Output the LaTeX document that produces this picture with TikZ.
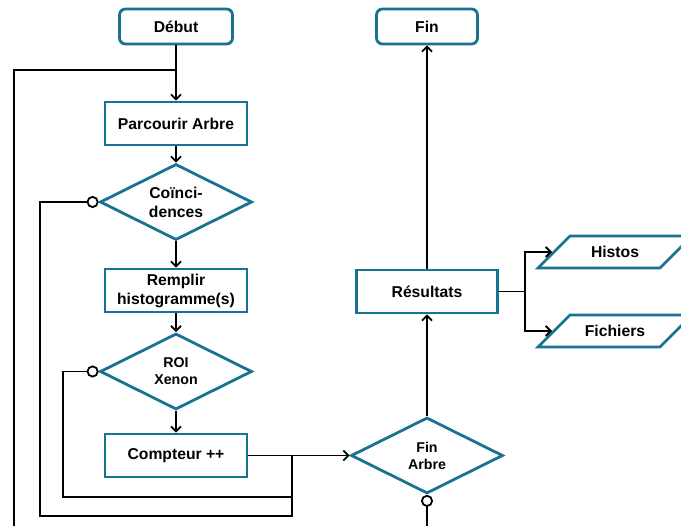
\documentclass[tikz,border=0pt]{standalone}
\usepackage{fontspec}
\setmainfont{Liberation Sans}
\usetikzlibrary{shapes.geometric,arrows.meta,positioning}
\definecolor{bleuflux}{RGB}{24,114,146}

\begin{document}
\begin{tikzpicture}[x=1pt, y=-1pt, line width=1.8pt,
    >={Straight Barb[length=5pt,width=10pt]},
    texte/.style={font=\bfseries\fontsize{15.7}{19}\selectfont, align=center, inner sep=0pt},
    petit/.style={font=\bfseries\fontsize{14.2}{17}\selectfont},
    bloc/.style={texte, draw=bleuflux, line width=2.8pt, fill=white, minimum width=142pt, minimum height=43pt},
    terminal/.style={bloc, rounded corners=6pt, minimum width=113pt, minimum height=35pt},
    test/.style={texte, shape=diamond, aspect=2, draw=bleuflux, line width=2.8pt, fill=white, minimum width=152pt, minimum height=76pt},
    sortie/.style={texte, trapezium, trapezium left angle=45, trapezium right angle=135, trapezium stretches body,
        text height=11.5pt, text depth=0pt, inner ysep=10.25pt, draw=bleuflux, line width=2.8pt, minimum width=154pt},
    boucle/.style={{Circle[open,length=12pt,width=12pt]}-}]
    \clip (0,0) rectangle (681,526);

    % Blocs du traitement
    \node[terminal] (debut) at (176,26.5) {Début};
    \node[terminal, minimum width=101pt] (fin) at (427,26.5) {Fin};
    \node[bloc] (parcours) at (176,123.5) {Parcourir Arbre};
    \node[test] (coinc) at (176,202) {Coïnci-\\dences};
    \node[bloc] (remplir) at (176,290.5) {Remplir\\histogramme(s)};
    \node[test, petit] (roi) at (176,371.5) {ROI\\Xenon};
    \node[bloc] (compteur) at (176,455.5) {Compteur ++};
    \node[test, petit] (finarbre) at (427,455.5) {Fin\\Arbre};
    \node[bloc, minimum width=141pt] (resultats) at (427,291.5) {Résultats};
    \node[sortie] (histos) at (615,252) {Histos};
    \node[sortie] (fichiers) at (615,331) {Fichiers};

    % Points de raccord
    \coordinate (entree) at (176,70);
    \coordinate (jonction) at (292,455.5);
    \coordinate (branche) at (525,291.5);

    % Chemin principal
    \draw[->] (debut) -- (parcours);
    \draw[->] (parcours) -- (coinc);
    \draw[->] (coinc) -- (remplir);
    \draw[->] (remplir) -- (roi);
    \draw[->] (roi) -- (compteur);
    \draw[->] (compteur) -- (finarbre);
    \draw[->] (finarbre) -- (resultats);
    \draw[->] (resultats) -- (fin);

    % Sorties
    \draw (resultats.east) -- (branche);
    \draw[->] (branche) |- (histos.left side);
    \draw[->] (branche) |- (fichiers.left side);

    % Boucles de retour
    \draw[boucle] (coinc.west) -| (40,516) -| (jonction);
    \draw[boucle] (roi.west) -| (63,497) -- (292,497);
    \draw[boucle] (finarbre.south) -- ++(0,60) -| (14,70) -- (entree);
\end{tikzpicture}
\end{document}
